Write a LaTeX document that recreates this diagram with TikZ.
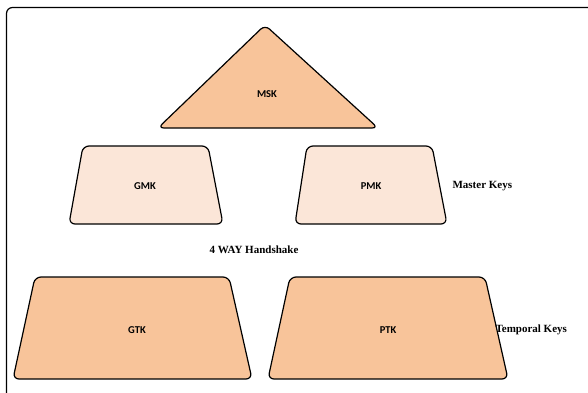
\documentclass[tikz,border=0pt]{standalone}
\usepackage{fontspec}
\setmainfont{Liberation Serif}
\newfontfamily\keyfont{Carlito}
\usepackage{tikz}
\usetikzlibrary{positioning, calc}
\usepackage{xcolor}
\definecolor{peach}{HTML}{F8C49A}
\definecolor{lightpeach}{HTML}{FBE6D8}
\tikzset{
  keyshape/.style={draw=black, line width=1.2pt, rounded corners=6pt,
                   fill=peach},
  masterkey/.style={keyshape, fill=lightpeach},
  keylabel/.style={font=\keyfont\fontsize{10.5}{12}\selectfont\bfseries},
  note/.style={font=\fontsize{11}{13}\selectfont\bfseries},
  frame/.style={draw=black, line width=1.2pt, rounded corners=6pt},
}

\begin{document}
\begin{tikzpicture}[x=1pt, y=-1pt]
  \useasboundingbox (0,0) rectangle (588,392);
  \draw [frame] (6.5,400) -- (6.5,7.5) -- (600,7.5);

  % master session key
  \draw [keyshape] (158,128) -- (265,25) -- (378,128) -- cycle;
  \node [keylabel] (msk) at (267,94) {MSK};

  % master keys
  \draw [masterkey] (69,224) -- (83,146) -- (208,146) -- (223,224) -- cycle;
  \node [keylabel] (gmk) at (145,186) {GMK};
  \draw [masterkey] (295,224) -- (307,146) -- (432,146) -- (447,224) -- cycle;
  \node [keylabel] (pmk) at (371,186) {PMK};
  \node [note, anchor=west] (master) at (449,186) {Master Keys};

  \node [note] (hs) at (254,250) {4 WAY Handshake};

  % temporal keys
  \draw [keyshape] (13,379) -- (35,277) -- (229,277) -- (252,379) -- cycle;
  \node [keylabel] (gtk) at (137,330) {GTK};
  \draw [keyshape] (268,379) -- (290,277) -- (485,277) -- (508,379) -- cycle;
  \node [keylabel] (ptk) at (388,330) {PTK};
  \node [note, anchor=west] (temporal) at (492,330) {Temporal Keys};
\end{tikzpicture}
\end{document}
